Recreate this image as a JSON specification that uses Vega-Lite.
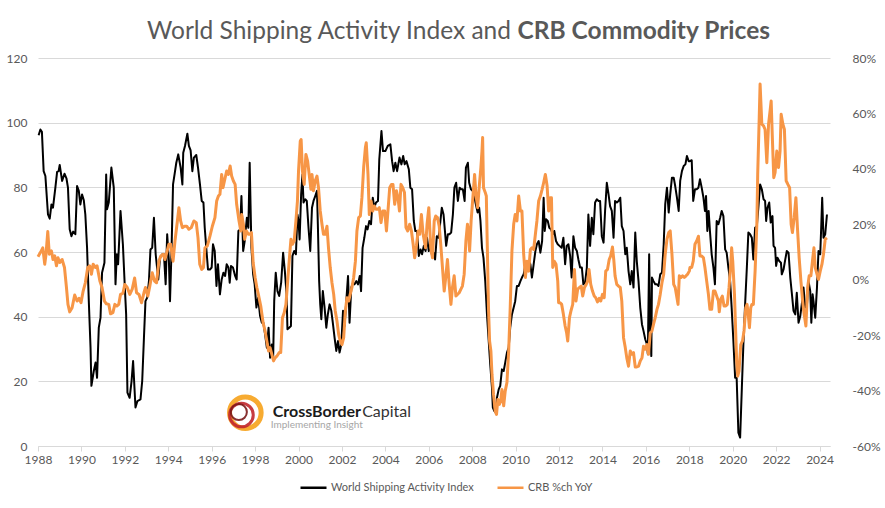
{
"$schema": "https://vega.github.io/schema/vega-lite/v6.json",
"width": 792, "height": 388,
"autosize": {"type": "none"},
"padding": {"left": 38, "top": 58, "right": 55, "bottom": 62},
"background": "white",
"config": {"font": "Lato", "view": {"stroke": null}, "axis": {"labelFont": "Lato", "labelFontSize": 12, "labelColor": "#595959", "domain": false, "ticks": false, "grid": false, "title": null}},
"title": {"text": "World Shipping Activity Index and", "subtitle": "\u200b\u2003\u2003\u2003\u2003\u2003\u2003\u2003\u2003\u2003\u2003\u2003\u2003\u2003\u2003\u2003\u2003\u2003\u2003\u2003\u2003\u2009CRB Commodity Prices", "anchor": "start", "frame": "group", "align": "left", "dx": 109, "offset": 8, "font": "Lato", "fontSize": 24.5, "fontWeight": "normal", "color": "#595959", "subtitleFont": "Lato", "subtitleFontSize": 24.5, "subtitleFontWeight": "bold", "subtitleColor": "#595959", "subtitlePadding": -24.5},
"datasets": {
"ship": [
{"year":1988.03,"value":96.1},{"year":1988.11,"value":97.9},{"year":1988.18,"value":97.2},{"year":1988.26,"value":85},{"year":1988.34,"value":83.5},{"year":1988.46,"value":71.6},{"year":1988.54,"value":70.3},{"year":1988.62,"value":74.7},{"year":1988.69,"value":73.7},{"year":1988.8,"value":79.9},{"year":1988.88,"value":84.8},{"year":1988.95,"value":85},{"year":1989.0,"value":86.9},{"year":1989.11,"value":82},{"year":1989.22,"value":84.2},{"year":1989.31,"value":82.8},{"year":1989.38,"value":79.9},{"year":1989.46,"value":67},{"year":1989.54,"value":64.9},{"year":1989.62,"value":66.3},{"year":1989.72,"value":65.5},{"year":1989.8,"value":80.4},{"year":1989.88,"value":78.9},{"year":1989.95,"value":74.7},{"year":1990.03,"value":77.8},{"year":1990.11,"value":76},{"year":1990.18,"value":71.6},{"year":1990.26,"value":61.3},{"year":1990.34,"value":44.8},{"year":1990.42,"value":30.4},{"year":1990.46,"value":18.6},{"year":1990.57,"value":23.2},{"year":1990.65,"value":25.8},{"year":1990.72,"value":21.1},{"year":1990.8,"value":36.6},{"year":1990.88,"value":39.7},{"year":1990.95,"value":53.6},{"year":1991.06,"value":56.7},{"year":1991.14,"value":84},{"year":1991.18,"value":73.2},{"year":1991.26,"value":75.3},{"year":1991.38,"value":86.1},{"year":1991.49,"value":79.9},{"year":1991.57,"value":50},{"year":1991.63,"value":59.3},{"year":1991.69,"value":56.2},{"year":1991.8,"value":72.7},{"year":1991.91,"value":62.4},{"year":1992.0,"value":49},{"year":1992.06,"value":40.7},{"year":1992.12,"value":16.5},{"year":1992.22,"value":14.9},{"year":1992.31,"value":20.1},{"year":1992.38,"value":26.3},{"year":1992.49,"value":11.9},{"year":1992.58,"value":13.9},{"year":1992.72,"value":14.4},{"year":1992.8,"value":20.1},{"year":1992.88,"value":33.5},{"year":1992.95,"value":44.8},{"year":1993.03,"value":45.9},{"year":1993.11,"value":51},{"year":1993.18,"value":60.8},{"year":1993.26,"value":61.3},{"year":1993.34,"value":70.6},{"year":1993.42,"value":59.3},{"year":1993.54,"value":51.5},{"year":1993.62,"value":58.2},{"year":1993.72,"value":59.3},{"year":1993.8,"value":59.3},{"year":1993.88,"value":50},{"year":1993.95,"value":65.5},{"year":1994.03,"value":57.2},{"year":1994.08,"value":44.8},
{"year":1994.15,"value":60.3},{"year":1994.22,"value":80.9},{"year":1994.29,"value":84},{"year":1994.37,"value":87.6},{"year":1994.46,"value":90.2},{"year":1994.57,"value":86.1},{"year":1994.65,"value":80.9},{"year":1994.69,"value":90.7},{"year":1994.77,"value":92.8},{"year":1994.88,"value":96.6},{"year":1994.95,"value":92.8},{"year":1995.03,"value":91.4},{"year":1995.11,"value":85},{"year":1995.18,"value":89.2},{"year":1995.29,"value":90},{"year":1995.37,"value":86.1},{"year":1995.46,"value":80.9},{"year":1995.54,"value":75.8},{"year":1995.62,"value":75.3},{"year":1995.68,"value":67.5},{"year":1995.75,"value":61.3},{"year":1995.83,"value":54.6},{"year":1995.92,"value":54.6},{"year":1996.0,"value":55.2},{"year":1996.06,"value":62.4},{"year":1996.14,"value":60.3},{"year":1996.22,"value":49.5},{"year":1996.29,"value":56.2},{"year":1996.38,"value":46.9},{"year":1996.46,"value":51.5},{"year":1996.54,"value":53.6},{"year":1996.62,"value":52.6},{"year":1996.69,"value":56.2},{"year":1996.77,"value":55.2},{"year":1996.83,"value":50.5},{"year":1996.89,"value":55.7},{"year":1996.98,"value":55.2},{"year":1997.08,"value":52.6},{"year":1997.15,"value":51.5},{"year":1997.23,"value":66.5},{"year":1997.31,"value":67},{"year":1997.37,"value":77.3},{"year":1997.45,"value":60.3},{"year":1997.52,"value":63.4},{"year":1997.62,"value":70.6},{"year":1997.69,"value":67.5},{"year":1997.75,"value":87.6},{"year":1997.83,"value":61.3},{"year":1997.91,"value":53.1},{"year":1997.98,"value":50},{"year":1998.06,"value":42.8},{"year":1998.14,"value":45.9},{"year":1998.23,"value":40.2},{"year":1998.31,"value":38.1},{"year":1998.38,"value":38.1},{"year":1998.46,"value":34.5},{"year":1998.54,"value":30.4},{"year":1998.62,"value":36.6},{"year":1998.69,"value":27.3},{"year":1998.77,"value":31.4},{"year":1998.83,"value":26.8},{"year":1998.88,"value":44.8},{"year":1998.95,"value":53.6},{"year":1999.03,"value":47.9},{"year":1999.11,"value":46.4},{"year":1999.2,"value":50.5},{"year":1999.29,"value":59.8},{"year":1999.37,"value":54.1},{"year":1999.45,"value":46.9},{"year":1999.49,"value":36.1},{"year":1999.57,"value":36.6},{"year":1999.65,"value":37.1},{"year":1999.72,"value":58.8},{"year":1999.8,"value":60.3},{"year":1999.88,"value":59.3},{"year":1999.95,"value":71.6},
{"year":2000.0,"value":69.6},{"year":2000.05,"value":63.9},{"year":2000.12,"value":77.8},{"year":2000.18,"value":84},{"year":2000.23,"value":75.3},{"year":2000.31,"value":76.3},{"year":2000.38,"value":75.8},{"year":2000.46,"value":67.5},{"year":2000.54,"value":60.3},{"year":2000.62,"value":73.7},{"year":2000.69,"value":75.8},{"year":2000.77,"value":77.3},{"year":2000.85,"value":78.9},{"year":2000.89,"value":68.6},{"year":2000.95,"value":51},{"year":2001.0,"value":43.8},{"year":2001.05,"value":39.2},{"year":2001.12,"value":47.9},{"year":2001.2,"value":42.8},{"year":2001.28,"value":36.6},{"year":2001.35,"value":40.7},{"year":2001.43,"value":43.8},{"year":2001.51,"value":41.8},{"year":2001.58,"value":38.1},{"year":2001.66,"value":33.5},{"year":2001.74,"value":29.4},{"year":2001.82,"value":32.5},{"year":2001.89,"value":28.9},{"year":2001.97,"value":31.4},{"year":2002.05,"value":41.8},{"year":2002.12,"value":37.1},{"year":2002.2,"value":44.8},{"year":2002.28,"value":52.6},{"year":2002.35,"value":38.1},{"year":2002.43,"value":49},{"year":2002.51,"value":50.5},{"year":2002.58,"value":50},{"year":2002.66,"value":51},{"year":2002.74,"value":50},{"year":2002.82,"value":52.6},{"year":2002.88,"value":47.9},{"year":2002.95,"value":61.3},{"year":2003.03,"value":64.4},{"year":2003.11,"value":68},{"year":2003.18,"value":67},{"year":2003.26,"value":69.6},{"year":2003.34,"value":68.6},{"year":2003.42,"value":76.8},{"year":2003.49,"value":73.7},{"year":2003.57,"value":75.3},{"year":2003.66,"value":75.8},{"year":2003.72,"value":88.7},{"year":2003.82,"value":97.4},{"year":2003.89,"value":91.2},{"year":2004.0,"value":91.2},{"year":2004.11,"value":92.8},{"year":2004.23,"value":93.3},{"year":2004.31,"value":88.1},{"year":2004.38,"value":85},{"year":2004.46,"value":87.6},{"year":2004.54,"value":85},{"year":2004.65,"value":89.2},{"year":2004.74,"value":87.1},{"year":2004.82,"value":89.7},{"year":2004.89,"value":87.1},{"year":2004.97,"value":88.1},{"year":2005.08,"value":85.6},{"year":2005.15,"value":79.9},{"year":2005.23,"value":79.4},{"year":2005.31,"value":69.6},{"year":2005.38,"value":66.5},{"year":2005.46,"value":66.5},{"year":2005.54,"value":58.8},{"year":2005.62,"value":60.8},{"year":2005.69,"value":59.3},{"year":2005.77,"value":61.9},{"year":2005.85,"value":60.3},{"year":2005.92,"value":64.4},{"year":2006.0,"value":60.3},
{"year":2006.06,"value":62.4},{"year":2006.14,"value":59.3},{"year":2006.22,"value":59.8},{"year":2006.29,"value":57.7},{"year":2006.37,"value":64.9},{"year":2006.45,"value":64.4},{"year":2006.52,"value":68.6},{"year":2006.6,"value":73.7},{"year":2006.68,"value":71.6},{"year":2006.75,"value":66},{"year":2006.8,"value":61.9},{"year":2006.88,"value":65.5},{"year":2006.95,"value":65.5},{"year":2007.03,"value":66},{"year":2007.11,"value":71.6},{"year":2007.18,"value":79.9},{"year":2007.26,"value":81.4},{"year":2007.34,"value":75.8},{"year":2007.42,"value":79.9},{"year":2007.49,"value":79.4},{"year":2007.57,"value":79.4},{"year":2007.65,"value":75.8},{"year":2007.71,"value":86.1},{"year":2007.8,"value":87.6},{"year":2007.86,"value":81.4},{"year":2007.94,"value":79.4},{"year":2008.02,"value":78.9},{"year":2008.09,"value":77.3},{"year":2008.17,"value":74.7},{"year":2008.25,"value":72.2},{"year":2008.32,"value":73.7},{"year":2008.38,"value":69.6},{"year":2008.45,"value":61.3},{"year":2008.52,"value":58.2},{"year":2008.6,"value":51},{"year":2008.68,"value":40.7},{"year":2008.75,"value":33.5},{"year":2008.83,"value":25.3},{"year":2008.91,"value":18},{"year":2008.95,"value":11.9},{"year":2009.02,"value":10.8},{"year":2009.09,"value":10.3},{"year":2009.14,"value":14.9},{"year":2009.22,"value":17.5},{"year":2009.29,"value":18.6},{"year":2009.37,"value":23.7},{"year":2009.45,"value":23.2},{"year":2009.52,"value":25.8},{"year":2009.6,"value":28.9},{"year":2009.68,"value":30.4},{"year":2009.75,"value":36.6},{"year":2009.83,"value":40.7},{"year":2009.91,"value":42.8},{"year":2009.98,"value":44.8},{"year":2010.06,"value":49.5},{"year":2010.14,"value":49.5},{"year":2010.22,"value":51},{"year":2010.29,"value":52.1},{"year":2010.37,"value":53.1},{"year":2010.45,"value":56.2},{"year":2010.52,"value":54.6},{"year":2010.6,"value":57.2},{"year":2010.68,"value":56.2},{"year":2010.75,"value":52.1},{"year":2010.83,"value":56.2},{"year":2010.91,"value":60.3},{"year":2010.98,"value":62.4},{"year":2011.06,"value":63.4},{"year":2011.14,"value":59.8},{"year":2011.22,"value":63.4},{"year":2011.29,"value":76.8},{"year":2011.34,"value":66.5},{"year":2011.4,"value":70.1},{"year":2011.48,"value":69.6},{"year":2011.55,"value":67.5},{"year":2011.63,"value":67},{"year":2011.71,"value":65.5},{"year":2011.78,"value":66.5},{"year":2011.86,"value":63.4},{"year":2011.94,"value":62.4},{"year":2012.02,"value":61.9},
{"year":2012.12,"value":61.3},{"year":2012.2,"value":64.4},{"year":2012.28,"value":56.2},{"year":2012.35,"value":61.9},{"year":2012.43,"value":62.4},{"year":2012.51,"value":58.8},{"year":2012.58,"value":52.1},{"year":2012.66,"value":64.9},{"year":2012.74,"value":61.3},{"year":2012.82,"value":60.3},{"year":2012.89,"value":57.7},{"year":2012.97,"value":55.2},{"year":2013.05,"value":55.2},{"year":2013.12,"value":50},{"year":2013.2,"value":50.5},{"year":2013.28,"value":55.2},{"year":2013.35,"value":71.6},{"year":2013.43,"value":61.9},{"year":2013.51,"value":70.6},{"year":2013.58,"value":65.5},{"year":2013.66,"value":75.3},{"year":2013.74,"value":76.3},{"year":2013.82,"value":75.8},{"year":2013.89,"value":75.8},{"year":2013.97,"value":64.9},{"year":2014.05,"value":62.9},{"year":2014.12,"value":72.7},{"year":2014.2,"value":81.4},{"year":2014.28,"value":77.8},{"year":2014.35,"value":74.2},{"year":2014.43,"value":72.7},{"year":2014.51,"value":64.4},{"year":2014.58,"value":75.8},{"year":2014.66,"value":75.3},{"year":2014.74,"value":75.8},{"year":2014.82,"value":76.8},{"year":2014.89,"value":68},{"year":2014.97,"value":66.5},{"year":2015.05,"value":59.3},{"year":2015.12,"value":61.3},{"year":2015.2,"value":54.1},{"year":2015.28,"value":50},{"year":2015.35,"value":54.1},{"year":2015.43,"value":49},{"year":2015.51,"value":66},{"year":2015.58,"value":57.2},{"year":2015.66,"value":51},{"year":2015.74,"value":42.8},{"year":2015.82,"value":37.6},{"year":2015.89,"value":35.6},{"year":2015.97,"value":33},{"year":2016.05,"value":31.4},{"year":2016.09,"value":28.4},{"year":2016.15,"value":59.3},{"year":2016.2,"value":35.6},{"year":2016.25,"value":27.8},{"year":2016.28,"value":52.1},{"year":2016.35,"value":51},{"year":2016.43,"value":50},{"year":2016.51,"value":50},{"year":2016.58,"value":49.5},{"year":2016.66,"value":53.1},{"year":2016.74,"value":53.6},{"year":2016.82,"value":62.4},{"year":2016.89,"value":74.7},{"year":2016.97,"value":79.9},{"year":2017.05,"value":72.2},{"year":2017.12,"value":77.8},{"year":2017.2,"value":83},{"year":2017.28,"value":83},{"year":2017.35,"value":80.4},{"year":2017.43,"value":76.8},{"year":2017.51,"value":72.7},{"year":2017.58,"value":82},{"year":2017.66,"value":85},{"year":2017.74,"value":86.6},{"year":2017.82,"value":87.1},{"year":2017.89,"value":89.7},{"year":2017.97,"value":88.1},
{"year":2018.03,"value":88.1},{"year":2018.11,"value":88.4},{"year":2018.18,"value":75.8},{"year":2018.26,"value":79.4},{"year":2018.34,"value":79.4},{"year":2018.42,"value":79.9},{"year":2018.49,"value":82.5},{"year":2018.57,"value":79.9},{"year":2018.65,"value":76.8},{"year":2018.72,"value":72.7},{"year":2018.77,"value":77.3},{"year":2018.83,"value":66.5},{"year":2018.89,"value":72.7},{"year":2018.95,"value":66.5},{"year":2019.03,"value":59.3},{"year":2019.11,"value":55.2},{"year":2019.18,"value":50},{"year":2019.26,"value":69.6},{"year":2019.34,"value":68.6},{"year":2019.42,"value":70.6},{"year":2019.49,"value":72.7},{"year":2019.57,"value":71.1},{"year":2019.65,"value":60.8},{"year":2019.72,"value":59.8},{"year":2019.8,"value":55.2},{"year":2019.88,"value":51},{"year":2019.95,"value":42.8},{"year":2020.03,"value":32.5},{"year":2020.11,"value":21.1},{"year":2020.18,"value":21.1},{"year":2020.26,"value":4.1},{"year":2020.34,"value":2.6},{"year":2020.42,"value":18},{"year":2020.49,"value":31.4},{"year":2020.57,"value":43.8},{"year":2020.65,"value":55.2},{"year":2020.72,"value":66},{"year":2020.8,"value":65.5},{"year":2020.88,"value":64.4},{"year":2020.95,"value":57.7},{"year":2021.03,"value":67.5},{"year":2021.11,"value":68},{"year":2021.18,"value":73.7},{"year":2021.26,"value":80.9},{"year":2021.34,"value":79.4},{"year":2021.42,"value":76.3},{"year":2021.49,"value":75.8},{"year":2021.54,"value":69.6},{"year":2021.6,"value":73.7},{"year":2021.68,"value":75.3},{"year":2021.75,"value":69.1},{"year":2021.83,"value":71.1},{"year":2021.88,"value":61.9},{"year":2021.95,"value":61.3},{"year":2022.0,"value":55.7},{"year":2022.06,"value":58.2},{"year":2022.14,"value":57.2},{"year":2022.22,"value":56.7},{"year":2022.26,"value":53.1},{"year":2022.34,"value":54.6},{"year":2022.42,"value":57.7},{"year":2022.49,"value":60.3},{"year":2022.57,"value":59.8},{"year":2022.65,"value":52.1},{"year":2022.72,"value":47.4},{"year":2022.8,"value":41.8},{"year":2022.88,"value":40.7},{"year":2022.95,"value":47.4},{"year":2023.03,"value":38.1},{"year":2023.11,"value":40.2},{"year":2023.18,"value":43.8},{"year":2023.26,"value":49},{"year":2023.34,"value":42.8},{"year":2023.42,"value":43.8},{"year":2023.49,"value":51},{"year":2023.57,"value":47.9},{"year":2023.62,"value":38.1},{"year":2023.68,"value":46.9},{"year":2023.72,"value":44.8},{"year":2023.8,"value":39.7},{"year":2023.88,"value":49},{"year":2023.95,"value":60.3},{"year":2024.03,"value":59.3},{"year":2024.08,"value":68.6},{"year":2024.12,"value":76.8},{"year":2024.18,"value":64.4},{"year":2024.26,"value":65.5},{"year":2024.34,"value":71.6}
],
"crb": [
{"year":1988.0,"value":8.3},{"year":1988.11,"value":9.8},{"year":1988.22,"value":11.5},{"year":1988.31,"value":5.6},{"year":1988.37,"value":9.2},{"year":1988.45,"value":17.4},{"year":1988.52,"value":9.2},{"year":1988.62,"value":10.4},{"year":1988.69,"value":7.3},{"year":1988.77,"value":8.6},{"year":1988.85,"value":5.0},{"year":1988.92,"value":7.9},{"year":1989.0,"value":6.2},{"year":1989.11,"value":7.3},{"year":1989.22,"value":4.4},{"year":1989.31,"value":-2.8},{"year":1989.38,"value":-8.9},{"year":1989.46,"value":-11.6},{"year":1989.57,"value":-10.1},{"year":1989.69,"value":-5.5},{"year":1989.8,"value":-7.7},{"year":1989.89,"value":-6.7},{"year":1989.98,"value":-8.3},{"year":1990.08,"value":-4.1},{"year":1990.18,"value":-1.1},{"year":1990.29,"value":4.4},{"year":1990.38,"value":5.0},{"year":1990.46,"value":2.0},{"year":1990.54,"value":5.6},{"year":1990.65,"value":4.4},{"year":1990.72,"value":5.0},{"year":1990.85,"value":-0.5},{"year":1990.95,"value":-2.8},{"year":1991.06,"value":-7.7},{"year":1991.15,"value":-8.7},{"year":1991.26,"value":-8.9},{"year":1991.34,"value":-12.3},{"year":1991.45,"value":-11.9},{"year":1991.54,"value":-8.9},{"year":1991.63,"value":-9.5},{"year":1991.72,"value":-8.9},{"year":1991.8,"value":-5.3},{"year":1991.91,"value":-4.9},{"year":1992.0,"value":-1.7},{"year":1992.11,"value":-2.8},{"year":1992.23,"value":-5.3},{"year":1992.34,"value":-3.4},{"year":1992.45,"value":0.6},{"year":1992.54,"value":-4.7},{"year":1992.65,"value":-5.3},{"year":1992.77,"value":-8.3},{"year":1992.88,"value":-4.7},{"year":1992.95,"value":-2.8},{"year":1993.06,"value":-5.9},{"year":1993.15,"value":-2.3},{"year":1993.26,"value":2.5},{"year":1993.37,"value":-0.5},{"year":1993.46,"value":-1.1},{"year":1993.57,"value":6.7},{"year":1993.66,"value":8.6},{"year":1993.77,"value":9.2},{"year":1993.85,"value":7.3},{"year":1993.95,"value":10.4},{"year":1994.03,"value":12.8},
{"year":1994.11,"value":12.8},{"year":1994.22,"value":6.7},{"year":1994.31,"value":14.0},{"year":1994.42,"value":21.2},{"year":1994.49,"value":26.0},{"year":1994.57,"value":21.2},{"year":1994.65,"value":18.8},{"year":1994.75,"value":19.3},{"year":1994.85,"value":19.3},{"year":1994.95,"value":18.2},{"year":1995.06,"value":18.8},{"year":1995.18,"value":21.2},{"year":1995.29,"value":20.6},{"year":1995.37,"value":15.1},{"year":1995.45,"value":5.6},{"year":1995.54,"value":3.7},{"year":1995.62,"value":4.4},{"year":1995.69,"value":11.5},{"year":1995.8,"value":12.2},{"year":1995.92,"value":15.7},{"year":1996.03,"value":19.3},{"year":1996.15,"value":22.4},{"year":1996.23,"value":28.4},{"year":1996.31,"value":30.2},{"year":1996.38,"value":30.8},{"year":1996.46,"value":38.0},{"year":1996.52,"value":33.2},{"year":1996.62,"value":36.8},{"year":1996.69,"value":39.2},{"year":1996.77,"value":38.0},{"year":1996.85,"value":41.0},{"year":1996.92,"value":37.4},{"year":1997.0,"value":35.6},{"year":1997.08,"value":34.4},{"year":1997.15,"value":27.2},{"year":1997.26,"value":21.2},{"year":1997.34,"value":17.6},{"year":1997.38,"value":23.5},{"year":1997.46,"value":20.0},{"year":1997.52,"value":14.6},{"year":1997.6,"value":17.6},{"year":1997.69,"value":16.4},{"year":1997.75,"value":16.4},{"year":1997.83,"value":17.0},{"year":1997.91,"value":6.2},{"year":1998.0,"value":0.8},{"year":1998.08,"value":-2.8},{"year":1998.15,"value":-5.3},{"year":1998.26,"value":-9.5},{"year":1998.37,"value":-15.6},{"year":1998.46,"value":-18.5},{"year":1998.54,"value":-22.1},{"year":1998.62,"value":-25.7},{"year":1998.69,"value":-24.5},{"year":1998.77,"value":-26.9},{"year":1998.85,"value":-29.3},{"year":1998.92,"value":-28.2},{"year":1999.0,"value":-27.6},{"year":1999.11,"value":-26.3},{"year":1999.18,"value":-26.3},{"year":1999.26,"value":-13.7},{"year":1999.34,"value":-11.9},{"year":1999.42,"value":-8.9},{"year":1999.49,"value":-1.7},{"year":1999.57,"value":6.7},{"year":1999.65,"value":14.6},{"year":1999.72,"value":12.8},{"year":1999.8,"value":14.0},{"year":1999.88,"value":21.2},{"year":1999.95,"value":28.4},
{"year":2000.0,"value":39.2},{"year":2000.08,"value":50.0},{"year":2000.12,"value":50.6},{"year":2000.18,"value":39.2},{"year":2000.26,"value":34.4},{"year":2000.34,"value":45.2},{"year":2000.42,"value":42.8},{"year":2000.49,"value":38.0},{"year":2000.57,"value":32.6},{"year":2000.62,"value":38.0},{"year":2000.69,"value":32.1},{"year":2000.77,"value":35.7},{"year":2000.85,"value":37.4},{"year":2000.92,"value":33.2},{"year":2001.0,"value":24.8},{"year":2001.08,"value":20.0},{"year":2001.15,"value":16.4},{"year":2001.23,"value":16.4},{"year":2001.31,"value":19.3},{"year":2001.38,"value":11.5},{"year":2001.46,"value":4.4},{"year":2001.54,"value":-1.1},{"year":2001.62,"value":-5.3},{"year":2001.69,"value":-11.2},{"year":2001.77,"value":-14.9},{"year":2001.85,"value":-19.8},{"year":2001.92,"value":-22.1},{"year":2002.0,"value":-23.4},{"year":2002.08,"value":-20.9},{"year":2002.15,"value":-11.9},{"year":2002.23,"value":-6.5},{"year":2002.31,"value":-7.7},{"year":2002.38,"value":-5.3},{"year":2002.46,"value":-2.8},{"year":2002.54,"value":0.8},{"year":2002.62,"value":6.7},{"year":2002.69,"value":17.6},{"year":2002.77,"value":22.4},{"year":2002.85,"value":23.0},{"year":2002.92,"value":29.6},{"year":2003.0,"value":40.5},{"year":2003.08,"value":47.7},{"year":2003.12,"value":49.4},{"year":2003.2,"value":38.0},{"year":2003.26,"value":23.5},{"year":2003.34,"value":28.4},{"year":2003.42,"value":24.8},{"year":2003.49,"value":26.6},{"year":2003.57,"value":25.4},{"year":2003.65,"value":25.4},{"year":2003.72,"value":26.0},{"year":2003.8,"value":20.6},{"year":2003.88,"value":24.8},{"year":2003.97,"value":24.8},{"year":2004.05,"value":17.6},{"year":2004.12,"value":24.8},{"year":2004.2,"value":33.2},{"year":2004.28,"value":34.4},{"year":2004.35,"value":34.4},{"year":2004.43,"value":27.2},{"year":2004.51,"value":32.1},{"year":2004.58,"value":29.6},{"year":2004.65,"value":24.8},{"year":2004.72,"value":34.4},{"year":2004.8,"value":33.2},{"year":2004.88,"value":31.5},{"year":2004.95,"value":18.8},{"year":2005.03,"value":17.6},{"year":2005.12,"value":20.0},{"year":2005.2,"value":17.6},{"year":2005.28,"value":12.8},{"year":2005.35,"value":7.9},{"year":2005.43,"value":12.2},{"year":2005.51,"value":17.6},{"year":2005.58,"value":16.4},{"year":2005.66,"value":23.5},{"year":2005.74,"value":16.4},{"year":2005.85,"value":11.5},{"year":2005.92,"value":20.0},{"year":2006.0,"value":26.0},
{"year":2006.09,"value":11.5},{"year":2006.17,"value":7.9},{"year":2006.25,"value":21.2},{"year":2006.32,"value":23.0},{"year":2006.4,"value":22.4},{"year":2006.48,"value":19.3},{"year":2006.55,"value":12.8},{"year":2006.63,"value":4.4},{"year":2006.71,"value":-4.1},{"year":2006.78,"value":0.8},{"year":2006.86,"value":7.3},{"year":2006.94,"value":-1.7},{"year":2007.02,"value":-8.9},{"year":2007.09,"value":-2.8},{"year":2007.17,"value":1.4},{"year":2007.25,"value":-5.9},{"year":2007.32,"value":-5.3},{"year":2007.4,"value":-4.7},{"year":2007.48,"value":-3.4},{"year":2007.55,"value":-2.3},{"year":2007.63,"value":2.0},{"year":2007.71,"value":14.0},{"year":2007.78,"value":20.0},{"year":2007.83,"value":17.6},{"year":2007.88,"value":10.4},{"year":2007.95,"value":21.2},{"year":2008.03,"value":29.6},{"year":2008.11,"value":38.0},{"year":2008.17,"value":30.8},{"year":2008.25,"value":26.0},{"year":2008.32,"value":33.2},{"year":2008.4,"value":40.5},{"year":2008.45,"value":46.4},{"year":2008.48,"value":51.3},{"year":2008.52,"value":33.2},{"year":2008.6,"value":31.5},{"year":2008.65,"value":30.2},{"year":2008.69,"value":14.0},{"year":2008.75,"value":-10.1},{"year":2008.8,"value":-22.1},{"year":2008.86,"value":-25.7},{"year":2008.91,"value":-34.1},{"year":2008.98,"value":-41.3},{"year":2009.06,"value":-47.4},{"year":2009.12,"value":-48.6},{"year":2009.18,"value":-43.2},{"year":2009.25,"value":-45.0},{"year":2009.31,"value":-43.8},{"year":2009.37,"value":-39.6},{"year":2009.45,"value":-45.5},{"year":2009.52,"value":-40.2},{"year":2009.6,"value":-37.1},{"year":2009.68,"value":-25.7},{"year":2009.75,"value":-10.1},{"year":2009.83,"value":10.4},{"year":2009.91,"value":20.0},{"year":2009.98,"value":23.5},{"year":2010.06,"value":21.2},{"year":2010.14,"value":30.2},{"year":2010.22,"value":24.8},{"year":2010.29,"value":24.8},{"year":2010.37,"value":9.2},{"year":2010.45,"value":0.8},{"year":2010.52,"value":6.7},{"year":2010.6,"value":3.1},{"year":2010.68,"value":10.9},{"year":2010.75,"value":11.5},{"year":2010.83,"value":10.9},{"year":2010.91,"value":16.4},{"year":2010.98,"value":21.2},{"year":2011.06,"value":28.4},{"year":2011.14,"value":30.2},{"year":2011.22,"value":32.6},{"year":2011.29,"value":35.0},{"year":2011.37,"value":38.0},{"year":2011.45,"value":33.8},{"year":2011.52,"value":24.8},{"year":2011.6,"value":29.6},{"year":2011.65,"value":29.6},{"year":2011.71,"value":4.4},{"year":2011.78,"value":6.7},{"year":2011.86,"value":5.6},{"year":2011.94,"value":-0.5},{"year":2011.98,"value":-8.3},
{"year":2012.05,"value":-8.3},{"year":2012.12,"value":-8.9},{"year":2012.2,"value":-12.5},{"year":2012.28,"value":-16.7},{"year":2012.35,"value":-19.2},{"year":2012.4,"value":-22.1},{"year":2012.48,"value":-13.7},{"year":2012.55,"value":-11.2},{"year":2012.63,"value":-8.9},{"year":2012.71,"value":3.7},{"year":2012.78,"value":-7.7},{"year":2012.86,"value":-3.4},{"year":2012.94,"value":-2.8},{"year":2013.02,"value":-2.3},{"year":2013.09,"value":-5.9},{"year":2013.17,"value":-2.8},{"year":2013.25,"value":-1.7},{"year":2013.32,"value":-0.5},{"year":2013.38,"value":3.7},{"year":2013.46,"value":-1.7},{"year":2013.54,"value":-4.1},{"year":2013.62,"value":-5.9},{"year":2013.69,"value":-6.5},{"year":2013.77,"value":-8.0},{"year":2013.85,"value":-6.7},{"year":2013.92,"value":-7.7},{"year":2014.0,"value":-5.3},{"year":2014.08,"value":-6.5},{"year":2014.15,"value":3.1},{"year":2014.23,"value":3.7},{"year":2014.31,"value":7.3},{"year":2014.38,"value":8.6},{"year":2014.46,"value":11.8},{"year":2014.52,"value":7.3},{"year":2014.58,"value":1.4},{"year":2014.66,"value":-1.7},{"year":2014.74,"value":-2.3},{"year":2014.82,"value":-2.8},{"year":2014.89,"value":-7.7},{"year":2014.97,"value":-20.9},{"year":2015.05,"value":-24.5},{"year":2015.12,"value":-28.2},{"year":2015.2,"value":-31.2},{"year":2015.28,"value":-25.7},{"year":2015.35,"value":-26.9},{"year":2015.43,"value":-26.3},{"year":2015.51,"value":-31.5},{"year":2015.58,"value":-31.5},{"year":2015.66,"value":-31.2},{"year":2015.74,"value":-29.3},{"year":2015.82,"value":-28.2},{"year":2015.89,"value":-24.0},{"year":2015.97,"value":-25.1},{"year":2016.05,"value":-23.4},{"year":2016.12,"value":-26.9},{"year":2016.2,"value":-19.2},{"year":2016.28,"value":-18.5},{"year":2016.35,"value":-16.1},{"year":2016.43,"value":-13.7},{"year":2016.51,"value":-10.7},{"year":2016.58,"value":-8.9},{"year":2016.66,"value":-5.3},{"year":2016.74,"value":-1.1},{"year":2016.82,"value":2.0},{"year":2016.89,"value":9.2},{"year":2016.97,"value":14.6},{"year":2017.05,"value":17.0},{"year":2017.12,"value":17.6},{"year":2017.2,"value":9.2},{"year":2017.28,"value":-1.7},{"year":2017.35,"value":-2.8},{"year":2017.43,"value":-6.5},{"year":2017.48,"value":-8.9},{"year":2017.54,"value":1.4},{"year":2017.62,"value":0.8},{"year":2017.69,"value":1.4},{"year":2017.77,"value":0.8},{"year":2017.85,"value":1.4},{"year":2017.92,"value":2.0},{"year":2018.0,"value":3.1},
{"year":2018.03,"value":4.4},{"year":2018.11,"value":4.4},{"year":2018.18,"value":6.7},{"year":2018.26,"value":12.8},{"year":2018.34,"value":14.0},{"year":2018.42,"value":15.7},{"year":2018.49,"value":8.6},{"year":2018.57,"value":8.6},{"year":2018.65,"value":7.9},{"year":2018.72,"value":4.4},{"year":2018.8,"value":-0.5},{"year":2018.88,"value":-5.3},{"year":2018.95,"value":-10.7},{"year":2019.03,"value":-10.7},{"year":2019.11,"value":-4.1},{"year":2019.18,"value":-4.1},{"year":2019.26,"value":-5.9},{"year":2019.34,"value":-7.7},{"year":2019.38,"value":-11.6},{"year":2019.45,"value":-7.0},{"year":2019.52,"value":-5.9},{"year":2019.6,"value":-9.5},{"year":2019.68,"value":-9.5},{"year":2019.75,"value":-8.9},{"year":2019.83,"value":-2.8},{"year":2019.91,"value":5.6},{"year":2019.95,"value":11.5},{"year":2020.0,"value":6.7},{"year":2020.08,"value":-5.3},{"year":2020.14,"value":-19.8},{"year":2020.18,"value":-29.3},{"year":2020.23,"value":-34.8},{"year":2020.29,"value":-32.9},{"year":2020.37,"value":-23.4},{"year":2020.45,"value":-22.1},{"year":2020.52,"value":-18.5},{"year":2020.6,"value":-10.1},{"year":2020.66,"value":-8.9},{"year":2020.72,"value":-13.1},{"year":2020.77,"value":-17.3},{"year":2020.83,"value":-10.1},{"year":2020.88,"value":-8.9},{"year":2020.95,"value":-8.9},{"year":2021.03,"value":3.1},{"year":2021.11,"value":20.0},{"year":2021.15,"value":38.0},{"year":2021.22,"value":58.4},{"year":2021.26,"value":70.6},{"year":2021.34,"value":56.1},{"year":2021.42,"value":55.5},{"year":2021.49,"value":54.2},{"year":2021.57,"value":42.2},{"year":2021.65,"value":56.1},{"year":2021.72,"value":60.9},{"year":2021.77,"value":64.5},{"year":2021.83,"value":50.0},{"year":2021.89,"value":36.8},{"year":2021.95,"value":38.6},{"year":2022.03,"value":46.4},{"year":2022.11,"value":40.5},{"year":2022.18,"value":46.4},{"year":2022.23,"value":59.7},{"year":2022.31,"value":56.1},{"year":2022.38,"value":54.2},{"year":2022.46,"value":35.7},{"year":2022.54,"value":34.4},{"year":2022.62,"value":33.2},{"year":2022.69,"value":20.0},{"year":2022.75,"value":17.0},{"year":2022.83,"value":22.4},{"year":2022.91,"value":29.6},{"year":2022.98,"value":18.8},{"year":2023.06,"value":7.9},{"year":2023.14,"value":-0.5},{"year":2023.22,"value":-7.7},{"year":2023.29,"value":-12.5},{"year":2023.37,"value":-16.7},{"year":2023.45,"value":-2.8},{"year":2023.52,"value":1.4},{"year":2023.6,"value":1.4},{"year":2023.68,"value":7.3},{"year":2023.74,"value":11.5},{"year":2023.8,"value":4.4},{"year":2023.88,"value":2.0},{"year":2023.95,"value":0.1},{"year":2024.03,"value":3.1},{"year":2024.11,"value":5.6},{"year":2024.18,"value":9.2},{"year":2024.26,"value":14.6},{"year":2024.34,"value":15.1}
]
},
"layer": [
{"data": {"name": "ship"},
 "mark": {"type": "line", "strokeWidth": 2, "strokeJoin": "round"},
 "encoding": {
  "x": {"field": "year", "type": "quantitative", "scale": {"domain": [1988, 2024.48], "nice": false, "zero": false},
        "axis": {"values": [1988,1990,1992,1994,1996,1998,2000,2002,2004,2006,2008,2010,2012,2014,2016,2018,2020,2022,2024], "format": "d", "domain": true, "domainColor": "#d9d9d9", "ticks": true, "tickColor": "#d9d9d9", "tickSize": 5, "labelPadding": 3, "labelFlush": false, "labelOverlap": false, "title": null}},
  "y": {"field": "value", "type": "quantitative", "scale": {"domain": [0, 120], "nice": false},
        "axis": {"orient": "left", "values": [0,20,40,60,80,100,120], "grid": true, "gridColor": "#d9d9d9", "labelPadding": 11, "title": null}},
  "color": {"datum": "World Shipping Activity Index", "type": "nominal",
            "scale": {"domain": ["World Shipping Activity Index", "CRB %ch YoY"], "range": ["#000000", "#F79646"]},
            "legend": {"orient": "none", "legendX": 261, "legendY": 415, "direction": "horizontal", "title": null, "symbolType": "stroke", "symbolSize": 676, "symbolStrokeWidth": 2.5, "labelFont": "Lato", "labelFontSize": 11, "labelColor": "#595959", "columnPadding": 17, "labelOffset": 3}}
 }},
{"data": {"name": "crb"},
 "mark": {"type": "line", "strokeWidth": 3, "strokeJoin": "round"},
 "encoding": {
  "x": {"field": "year", "type": "quantitative", "scale": {"domain": [1988, 2024.48], "nice": false, "zero": false}},
  "y": {"field": "value", "type": "quantitative", "scale": {"domain": [-60, 80], "nice": false, "zero": false},
        "axis": {"orient": "right", "values": [-60,-40,-20,0,20,40,60,80], "labelExpr": "datum.value + '%'", "labelAlign": "left", "labelPadding": 22, "grid": false, "title": null}},
  "color": {"datum": "CRB %ch YoY", "type": "nominal"}
 }},
{"data": {"values": [{}]},
 "mark": {"type": "point", "shape": "circle", "filled": false, "stroke": "#F7A21B", "strokeWidth": 5, "size": 1000, "opacity": 0.9},
 "encoding": {"x": {"datum": 1997.55, "type": "quantitative", "scale": {"domain": [1988, 2024.48], "nice": false, "zero": false}}, "y": {"datum": 10.3, "type": "quantitative", "scale": {"domain": [0, 120], "nice": false}, "axis": null}}},
{"data": {"values": [{}]},
 "mark": {"type": "point", "shape": "circle", "filled": false, "stroke": "#C1272D", "strokeWidth": 3, "size": 560, "opacity": 0.9},
 "encoding": {"x": {"datum": 1997.37, "type": "quantitative", "scale": {"domain": [1988, 2024.48], "nice": false, "zero": false}}, "y": {"datum": 9.6, "type": "quantitative", "scale": {"domain": [0, 120], "nice": false}, "axis": null}}},
{"data": {"values": [{}]},
 "mark": {"type": "point", "shape": "circle", "filled": false, "stroke": "#7B1A1A", "strokeWidth": 2, "size": 260, "opacity": 0.9},
 "encoding": {"x": {"datum": 1997.25, "type": "quantitative", "scale": {"domain": [1988, 2024.48], "nice": false, "zero": false}}, "y": {"datum": 10.5, "type": "quantitative", "scale": {"domain": [0, 120], "nice": false}, "axis": null}}},
{"data": {"values": [{}]},
 "mark": {"type": "text", "text": "CrossBorder", "font": "Lato", "fontSize": 16, "fontWeight": "bold", "color": "#1a1a1a", "align": "right", "baseline": "alphabetic"},
 "encoding": {"x": {"datum": 2002.88, "type": "quantitative", "scale": {"domain": [1988, 2024.48], "nice": false, "zero": false}}, "y": {"datum": 8.97, "type": "quantitative", "scale": {"domain": [0, 120], "nice": false}, "axis": null}}},
{"data": {"values": [{}]},
 "mark": {"type": "text", "text": "Capital", "font": "Lato", "fontSize": 16, "fontWeight": "normal", "color": "#333333", "align": "left", "baseline": "alphabetic"},
 "encoding": {"x": {"datum": 2002.93, "type": "quantitative", "scale": {"domain": [1988, 2024.48], "nice": false, "zero": false}}, "y": {"datum": 8.97, "type": "quantitative", "scale": {"domain": [0, 120], "nice": false}, "axis": null}}},
{"data": {"values": [{}]},
 "mark": {"type": "text", "text": "Implementing Insight", "font": "Lato", "fontSize": 10, "color": "#a6a6a6", "align": "left", "baseline": "alphabetic"},
 "encoding": {"x": {"datum": 1998.72, "type": "quantitative", "scale": {"domain": [1988, 2024.48], "nice": false, "zero": false}}, "y": {"datum": 5.57, "type": "quantitative", "scale": {"domain": [0, 120], "nice": false}, "axis": null}}}
],
"resolve": {"scale": {"y": "independent"}}
}
